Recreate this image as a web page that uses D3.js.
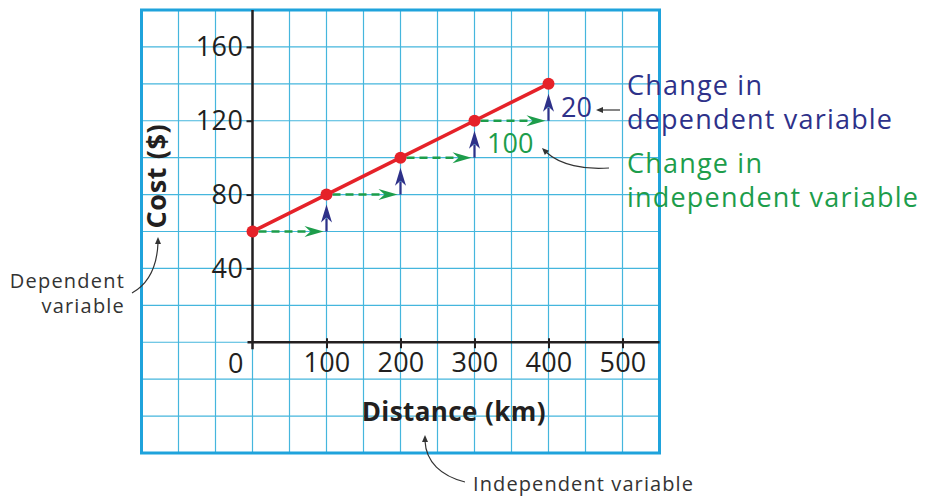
<!DOCTYPE html>
<html>
<head>
<meta charset="utf-8">
<script src="https://cdn.jsdelivr.net/npm/d3@7/dist/d3.min.js"></script>
<style>
  html, body { margin: 0; padding: 0; background: #ffffff; }
  svg { display: block; }
  text { font-family: "Open Sans", "Noto Sans", sans-serif; }
</style>
</head>
<body>
<svg id="chart" width="926" height="497"></svg>
<script>
// ---- data ----
const distances = [0, 100, 200, 300, 400];
const costs = [60, 80, 100, 120, 140];
const xTickValues = [100, 200, 300, 400, 500];
const yTickValues = [40, 80, 120, 160];
const xGridValues = d3.range(-150, 551, 50);
const yGridValues = d3.range(-60, 181, 20);
const riseLabel = "20";
const runLabel = "100";
const xTitle = "Distance (km)";
const yTitle = "Cost ($)";

// ---- styles ----
const C = {
  grid: "#45b6dd", border: "#1fa3dc", axis: "#231f20",
  red: "#e52229", green: "#1d9d4b", navy: "#2e3189", text: "#333333"
};

const svg = d3.select("#chart");
const x = d3.scaleLinear().domain([-150, 550]).range([141.5, 659.5]);
const y = d3.scaleLinear().domain([-60, 180]).range([453, 10]);

// grid
const g = svg.append("g");
g.selectAll("line.v").data(xGridValues).join("line")
  .attr("x1", d => x(d)).attr("x2", d => x(d))
  .attr("y1", y(180)).attr("y2", y(-60))
  .attr("stroke", C.grid).attr("stroke-width", 1.2);
g.selectAll("line.h").data(yGridValues).join("line")
  .attr("y1", d => y(d)).attr("y2", d => y(d))
  .attr("x1", x(-150)).attr("x2", x(550))
  .attr("stroke", C.grid).attr("stroke-width", 1.2);
g.append("rect")
  .attr("x", x(-150)).attr("y", y(180))
  .attr("width", x(550) - x(-150)).attr("height", y(-60) - y(180))
  .attr("fill", "none").attr("stroke", C.border).attr("stroke-width", 3);

// axes
const yAxis = d3.axisLeft(y).tickValues(yTickValues).tickSize(6).tickPadding(3);
const yAxisG = svg.append("g").attr("transform", `translate(${x(0)},0)`).call(yAxis);
yAxisG.select(".domain").remove();
yAxisG.selectAll(".tick line").attr("stroke", C.axis).attr("stroke-width", 2);
yAxisG.selectAll(".tick text").attr("font-size", 27).attr("fill", C.axis)
  .attr("font-family", "Open Sans").attr("letter-spacing", 0.5).attr("dy", "0.33em");

const xAxis = d3.axisBottom(x).tickValues(xTickValues).tickSize(6).tickPadding(5);
const xAxisG = svg.append("g").attr("transform", `translate(0,${y(0)})`).call(xAxis);
xAxisG.select(".domain").remove();
xAxisG.selectAll(".tick line").attr("y1", -4).attr("stroke", C.axis).attr("stroke-width", 2);
xAxisG.selectAll(".tick text").attr("font-size", 27).attr("fill", C.axis)
  .attr("font-family", "Open Sans").attr("letter-spacing", 0.3);

// axis lines
svg.append("line").attr("x1", x(0)).attr("x2", x(0))
  .attr("y1", y(180)).attr("y2", y(0) + 7)
  .attr("stroke", C.axis).attr("stroke-width", 2.5);
svg.append("line").attr("x1", x(0) - 5).attr("x2", x(550))
  .attr("y1", y(0)).attr("y2", y(0))
  .attr("stroke", C.axis).attr("stroke-width", 2.5);

svg.append("text").attr("x", x(0) - 9).attr("y", y(0) + 31)
  .attr("text-anchor", "end").attr("font-size", 27).attr("fill", C.axis).text("0");

// axis titles
svg.append("text").attr("x", x(272)).attr("y", 421)
  .attr("text-anchor", "middle").attr("font-size", 26).attr("font-weight", "bold")
  .attr("letter-spacing", 0.4).attr("fill", C.axis).text(xTitle);
svg.append("text").attr("transform", `translate(166,${y(90)}) rotate(-90)`)
  .attr("text-anchor", "middle").attr("font-size", 27).attr("font-weight", "bold")
  .attr("letter-spacing", 0.6).attr("fill", C.axis).text(yTitle);

// run arrows (green dashed) and rise arrows (navy)
const pts = distances.map((d, i) => ({ d, c: costs[i] }));
const steps = pts.slice(1).map((p, i) => ({ from: pts[i], to: p }));

const sg = svg.append("g");
steps.forEach(s => {
  const y0 = y(s.from.c), x0 = x(s.from.d), x1 = x(s.to.d), y1 = y(s.to.c);
  const tip = x1 - 3;
  sg.append("line").attr("x1", x0 + 6).attr("x2", tip - 14)
    .attr("y1", y0).attr("y2", y0)
    .attr("stroke", C.green).attr("stroke-width", 2.5).attr("stroke-dasharray", "8,5");
  sg.append("path")
    .attr("d", `M${tip},${y0} L${tip - 19},${y0 - 5.5} L${tip - 13},${y0} L${tip - 19},${y0 + 5.5} Z`)
    .attr("fill", C.green);
  // rise
  const ytip = y1 + 10;
  sg.append("line").attr("x1", x1).attr("x2", x1)
    .attr("y1", y0).attr("y2", ytip + 14)
    .attr("stroke", C.navy).attr("stroke-width", 2.2);
  sg.append("path")
    .attr("d", `M${x1},${ytip} L${x1 + 5.5},${ytip + 18} L${x1},${ytip + 13} L${x1 - 5.5},${ytip + 18} Z`)
    .attr("fill", C.navy);
});

// red line and points
svg.append("path").datum(pts)
  .attr("d", d3.line().x(p => x(p.d)).y(p => y(p.c)))
  .attr("fill", "none").attr("stroke", C.red).attr("stroke-width", 3.5);
svg.selectAll("circle.pt").data(pts).join("circle")
  .attr("cx", p => x(p.d)).attr("cy", p => y(p.c)).attr("r", 6).attr("fill", C.red);

// labels for rise / run
svg.append("text").attr("x", 561).attr("y", 117).attr("font-size", 27)
  .attr("fill", C.navy).text(riseLabel);
svg.append("text").attr("x", 487).attr("y", 153).attr("font-size", 27)
  .attr("fill", C.green).text(runLabel);

const big = { size: 27, ls: 1.2 };
[["Change in", 95, C.navy], ["dependent variable", 129, C.navy],
 ["Change in", 173, C.green], ["independent variable", 207, C.green]].forEach(([t, yy, col]) => {
  svg.append("text").attr("x", 627).attr("y", yy).attr("font-size", big.size)
    .attr("letter-spacing", big.ls).attr("fill", col).text(t);
});

svg.append("text").attr("x", 125).attr("y", 288).attr("text-anchor", "end")
  .attr("font-size", 20).attr("letter-spacing", 1.2).attr("fill", C.text).text("Dependent");
svg.append("text").attr("x", 125).attr("y", 313).attr("text-anchor", "end")
  .attr("font-size", 20).attr("letter-spacing", 1.2).attr("fill", C.text).text("variable");
svg.append("text").attr("x", 473).attr("y", 491)
  .attr("font-size", 20).attr("letter-spacing", 1.1).attr("fill", C.text).text("Independent variable");

// thin pointer arrows
const thin = "#333333";
function pointer(d, tipX, tipY, ang) {
  svg.append("path").attr("d", d).attr("fill", "none").attr("stroke", thin).attr("stroke-width", 1.2);
  const a = ang * Math.PI / 180, L = 7, W = 3;
  const bx = tipX - L * Math.cos(a), by = tipY - L * Math.sin(a);
  const nx = -Math.sin(a) * W, ny = Math.cos(a) * W;
  svg.append("path").attr("d", `M${tipX},${tipY} L${bx + nx},${by + ny} L${bx - nx},${by - ny} Z`).attr("fill", thin);
}
pointer("M620,110 L600,110", 596, 110, 180);
pointer("M609,168 C585,170 560,165 546,152", 542, 148, 225);
pointer("M132,293 C150,283 157,266 158,243", 158, 237, -90);
pointer("M465,482 C441,476 426,462 425,441", 425, 435, -90);
</script>
</body>
</html>
